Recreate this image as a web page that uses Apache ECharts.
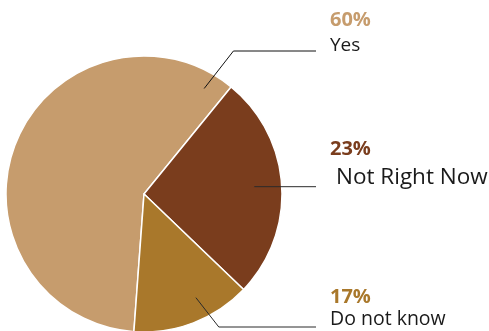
<!DOCTYPE html>
<html>
<head>
<meta charset="utf-8">
<script src="https://cdn.jsdelivr.net/npm/echarts@6/dist/echarts.min.js"></script>
<style>
  html, body { margin: 0; padding: 0; background: #fff; }
  #main { width: 489px; height: 331px; }
</style>
</head>
<body>
<div id="main"></div>
<script>
var categories = ['Yes', 'Not Right Now', 'Do not know']
var shares = [59.7, 26.3, 14.0] // slice sizes as drawn in the picture
var pctLabels = ['60%', '23%', '17%']
var colors = ['#C69C6D', '#7A3D1D', '#A9782B']

// pie geometry
var cx = 144, cy = 194, r = 138
// leader lines: anchor angle (clockwise from 12 o'clock), anchor radius fraction, label top, line y
var leaders = [
  {angle: 29.7, frac: 0.88, top: 8, lineY: 51, color: '#111'},
  {angle: 86.4, frac: 0.80, top: 136.5, lineY: 186.7, color: '#2a2a2a'},
  {angle: 153.4, frac: 0.84, top: 286.5, lineY: 327, color: '#2a2a2a'}
]
var textStyles = [
  {pSize: 20, pLine: 25, nSize: 19, nLine: 25, pad: 0},
  {pSize: 20, pLine: 26, nSize: 22.5, nLine: 30, pad: 6},
  {pSize: 20, pLine: 22, nSize: 19.5, nLine: 22.6, pad: 0}
]

var rich = {}
textStyles.forEach(function (t, i) {
  rich['p' + i] = {fontFamily: 'Open Sans', fontWeight: 'bold', fontSize: t.pSize, lineHeight: t.pLine, color: colors[i]}
  rich['n' + i] = {fontFamily: 'Open Sans', fontSize: t.nSize, lineHeight: t.nLine, color: '#1a1a1a', padding: [0, 0, 0, t.pad]}
})

var pieData = categories.map(function (name, i) {
  return {value: shares[i], name: name, itemStyle: {color: colors[i]}}
})
// same slices, invisible, only to carry labels and leader lines above the pie
var labelData = categories.map(function (name, i) {
  return {value: shares[i], name: name, labelLine: {lineStyle: {color: leaders[i].color}}}
})

var myChart = echarts.init(document.getElementById('main'))
myChart.setOption({
  animation: false,
  series: [{
    type: 'pie',
    z: 2,
    center: [cx, cy],
    radius: r,
    startAngle: 265.8,
    clockwise: true,
    itemStyle: {borderColor: '#fff', borderWidth: 1.5},
    label: {show: false},
    labelLine: {show: false},
    data: pieData
  }, {
    type: 'pie',
    z: 5,
    silent: true,
    center: [cx, cy],
    radius: r,
    startAngle: 265.8,
    clockwise: true,
    avoidLabelOverlap: false,
    itemStyle: {color: 'rgba(0,0,0,0)', borderWidth: 0},
    label: {
      show: true,
      position: 'outside',
      formatter: function (p) {
        var i = p.dataIndex
        return '{p' + i + '|' + pctLabels[i] + '}\n{n' + i + '|' + p.name + '}'
      },
      rich: rich
    },
    labelLine: {show: true, smooth: false, lineStyle: {width: 1}},
    labelLayout: function (params) {
      var l = leaders[params.dataIndex]
      var rad = l.angle * Math.PI / 180
      var ax = cx + l.frac * r * Math.sin(rad)
      var ay = cy - l.frac * r * Math.cos(rad)
      var ex = ax + Math.abs(l.lineY - ay) * 0.78
      return {
        x: 330,
        y: l.top,
        align: 'left',
        verticalAlign: 'top',
        labelLinePoints: [[ax, ay], [ex, l.lineY], [316, l.lineY]]
      }
    },
    data: labelData
  }]
})
</script>
</body>
</html>
